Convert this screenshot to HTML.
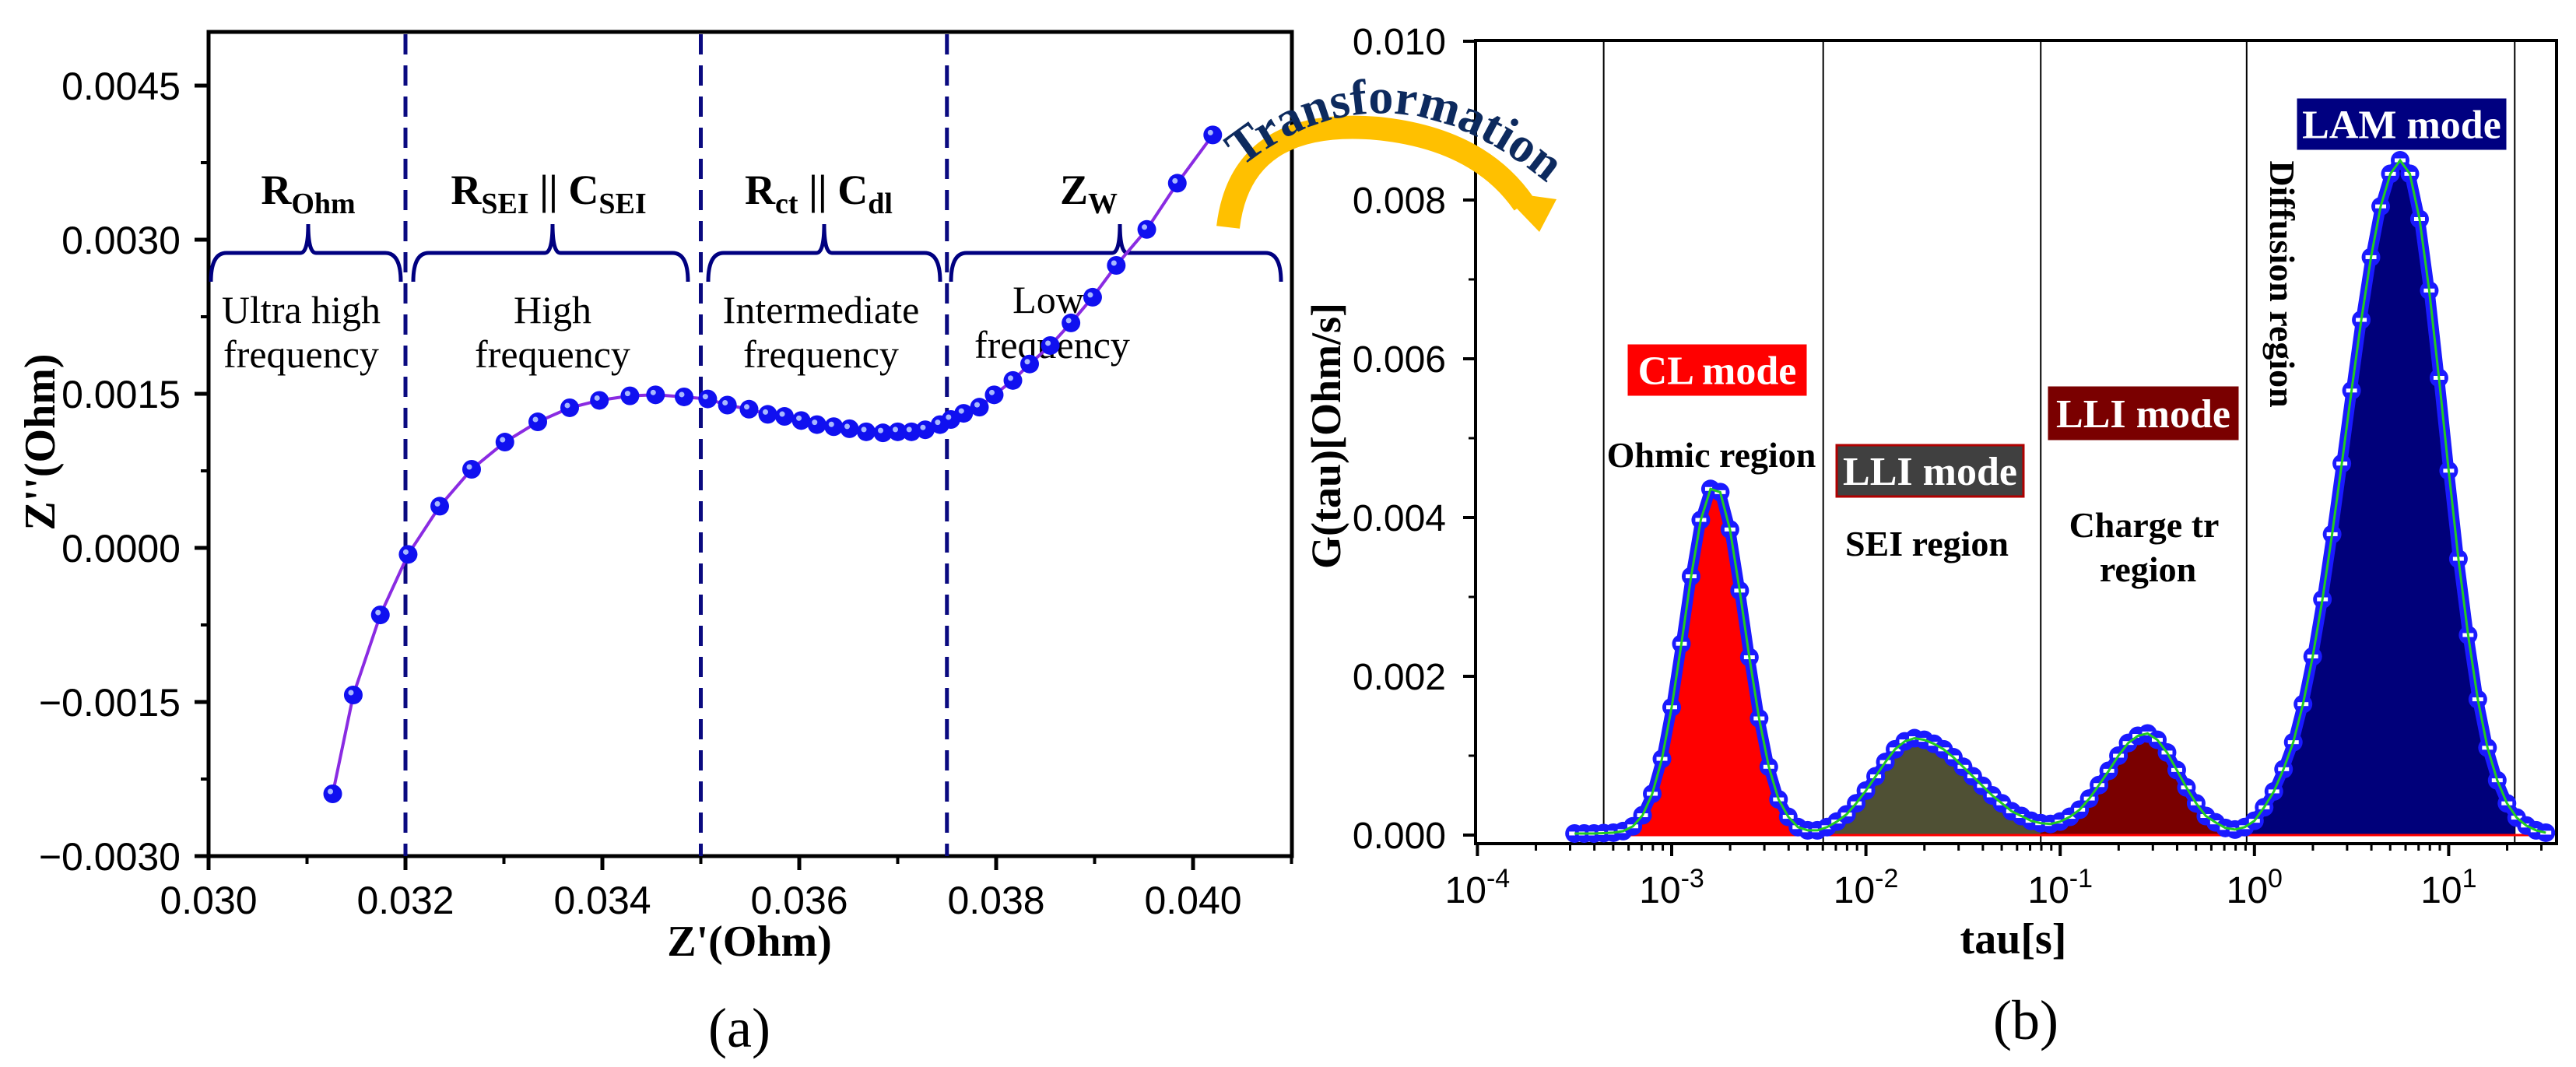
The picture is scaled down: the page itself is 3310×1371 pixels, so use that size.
<!DOCTYPE html>
<html><head><meta charset="utf-8"><style>
html,body{margin:0;padding:0;background:#fff;}
svg{display:block;}
text{font-family:"Liberation Sans",sans-serif;}
.serif{font-family:"Liberation Serif",serif;}
</style></head><body>
<svg id="fig" width="3310" height="1371" viewBox="0 0 3310 1371" xmlns="http://www.w3.org/2000/svg">
<defs>
<path id="arcPath" d="M1595,215 Q1790,60 2005,250"/>
</defs>
<g id="panelA"></g>
<g id="panelB"></g>
<g id="transform">
<path d="M1578,292 Q1595,150 1770,165 Q1900,178 1958,262" fill="none" stroke="#FFC000" stroke-width="30"/>
<polygon points="1928,246 2000,256 1978,298" fill="#FFC000"/>
<text class="serif" font-size="64" font-weight="bold" fill="#0d2a5e"><textPath href="#arcPath">Transformation</textPath></text>
</g>
</svg>
<script>
// ---------- Panel (a) data ----------
const aZre = [0.031261,0.03147,0.031745,0.032027,0.032348,0.032672,0.03301,0.033344,0.033668,0.03397,0.03428,0.03454,0.03483,0.03507,0.03527,0.03549,0.03568,0.03585,0.03602,0.03618,0.03635,0.03651,0.03668,0.03685,0.037,0.03714,0.03728,0.03743,0.03754,0.03767,0.03783,0.03798,0.03817,0.03834,0.03855,0.03876,0.03898,0.03922,0.03953,0.03984,0.0402];
const aZim = [-0.002394,-0.001432,-0.000652,-0.000063,0.000406,0.000765,0.00103,0.001227,0.001364,0.001436,0.00148,0.00149,0.00147,0.00145,0.00139,0.00135,0.0013,0.00128,0.00124,0.0012,0.00118,0.00116,0.00113,0.00112,0.00113,0.00113,0.00115,0.0012,0.00125,0.00131,0.00137,0.00149,0.00163,0.00179,0.00197,0.00219,0.00244,0.00275,0.0031,0.00355,0.00402];
const aXTicks = [0.030,0.032,0.034,0.036,0.038,0.040];
const aXTickLabels = ["0.030","0.032","0.034","0.036","0.038","0.040"];
const aYTicks = [-0.0030,-0.0015,0.0000,0.0015,0.0030,0.0045];
const aYTickLabels = ["\u22120.0030","\u22120.0015","0.0000","0.0015","0.0030","0.0045"];
const aDividers = [0.032,0.035,0.0375];
// ---------- Panel (b) data ----------
const bLogTau = [-3.5,-3.45,-3.4,-3.35,-3.3,-3.25,-3.2,-3.15,-3.1,-3.05,-3.0,-2.95,-2.9,-2.85,-2.8,-2.75,-2.7,-2.65,-2.6,-2.55,-2.5,-2.45,-2.4,-2.35,-2.3,-2.25,-2.2,-2.15,-2.1,-2.05,-2.0,-1.95,-1.9,-1.85,-1.8,-1.75,-1.7,-1.65,-1.6,-1.55,-1.5,-1.45,-1.4,-1.35,-1.3,-1.25,-1.2,-1.15,-1.1,-1.05,-1.0,-0.95,-0.9,-0.85,-0.8,-0.75,-0.7,-0.65,-0.6,-0.55,-0.5,-0.45,-0.4,-0.35,-0.3,-0.25,-0.2,-0.15,-0.1,-0.05,0,0.05,0.1,0.15,0.2,0.25,0.3,0.35,0.4,0.45,0.5,0.55,0.6,0.65,0.7,0.75,0.8,0.85,0.9,0.95,1.0,1.05,1.1,1.15,1.2,1.25,1.3,1.35,1.4,1.45,1.5];
const bG = [0.2,0.2,0.2,0.25,0.3,0.5,1.1,2.5,5.2,9.6,16.1,24.1,32.6,39.7,43.6,43.2,38.5,30.8,22.4,14.7,8.6,4.5,2.3,1.0,0.6,0.6,1.0,1.7,2.6,4.0,5.6,7.4,9.2,10.8,11.8,12.2,12.0,11.5,10.8,9.8,8.6,7.4,6.2,5.0,4.0,3.0,2.4,1.8,1.5,1.4,1.7,2.3,3.2,4.6,6.3,8.1,10.0,11.6,12.5,12.8,12.0,10.4,8.2,6.0,4.0,2.4,1.6,0.9,0.7,1.0,1.8,3.5,5.5,8.3,11.7,16.5,22.5,29.7,37.9,46.8,56,64.9,72.8,79.2,83.3,85,83.3,77.6,68.6,57.6,45.9,34.8,25.2,17.1,11,6.9,4.0,2.2,1.2,0.6,0.3]; // units of 1e-4 Ohm/s
const bYTicks = [0,0.002,0.004,0.006,0.008,0.010];
const bYTickLabels = ["0.000","0.002","0.004","0.006","0.008","0.010"];
const bXDecades = [-4,-3,-2,-1,0,1];
const bXTickExp = ["-4","-3","-2","-1","0","1"];
const bRegionBounds = [-3.35,-2.22,-1.1,-0.04,1.34];
const bRegionColors = ["#ff0000","#4f5034","#7a0000","#00007a"];

const NS = "http://www.w3.org/2000/svg";
function mk(parent, tag, attrs, txt){
  const e = document.createElementNS(NS, tag);
  for (const k in attrs) e.setAttribute(k, attrs[k]);
  if (txt !== undefined) e.textContent = txt;
  parent.appendChild(e);
  return e;
}

// ===== Panel A =====
const A = document.getElementById('panelA');
const aL=268, aR=1660, aT=41, aB=1100;
const xa = v => aL + (v-0.030)*126500;
const ya = v => 704 - v*132000;
let e;
e = mk(A,'rect',{x:aL,y:aT,width:aR-aL,height:aB-aT,fill:'none',stroke:'#000','stroke-width':5});


aXTicks.forEach((v,i)=>{
  e = mk(A,'line',{x1:xa(v),x2:xa(v),y1:aB,y2:aB+18,stroke:'#000','stroke-width':5});
  
  
  e = mk(A,'line',{x1:xa(v+0.001),x2:xa(v+0.001),y1:aB,y2:aB+10,stroke:'#000','stroke-width':4});
  
  
  e = mk(A,'text',{x:xa(v),y:1174,'font-size':50,'text-anchor':'middle'},aXTickLabels[i]);
  
  
});
aYTicks.forEach((v,i)=>{
  e = mk(A,'line',{x1:aL-18,x2:aL,y1:ya(v),y2:ya(v),stroke:'#000','stroke-width':5});
  
  
  if (i<aYTicks.length-1){
    e = mk(A,'line',{x1:aL-10,x2:aL,y1:ya(v+0.00075),y2:ya(v+0.00075),stroke:'#000','stroke-width':4});
    
    
  }
  e = mk(A,'text',{x:232,y:ya(v)+18,'font-size':50,'text-anchor':'end'},aYTickLabels[i]);
  
  
});
aDividers.forEach(v=>{
  e = mk(A,'line',{x1:xa(v),x2:xa(v),y1:aT+3,y2:aB,stroke:'#0a0a80','stroke-width':5,'stroke-dasharray':'26,14'});
  
  
});
const braces=[[271,515,396],[531,884,710],[910,1208,1059],[1222,1646,1439]];
braces.forEach(b=>{
  const [x0,x1,xm]=b, y=325;
  const d=`M${x0},362 Q${x0},${y} ${x0+20},${y} L${xm-10},${y} Q${xm},${y} ${xm},288 Q${xm},${y} ${xm+10},${y} L${x1-20},${y} Q${x1},${y} ${x1},362`;
  e = mk(A,'path',{d:d,fill:'none',stroke:'#000080','stroke-width':5});
  
  
});
function subLabel(x,y,parts,name){
  const t = mk(A,'text',{x:x,y:y,'font-size':54,'font-weight':'bold','text-anchor':'middle',class:'serif'});
  
  
  parts.forEach(p=>{
    mk(t,'tspan',p[1]?{'font-size':38,dy:12}:{'font-size':54,dy:p[2]||0},p[0]);
  });
}
subLabel(396,262,[["R"],["Ohm",1]],'r-ohm-label');
subLabel(705,262,[["R"],["SEI",1],[" || C",0,-12],["SEI",1]],'r-sei-c-sei-label');
subLabel(1052,262,[["R"],["ct",1],[" || C",0,-12],["dl",1]],'r-ct-c-dl-label');
subLabel(1399,262,[["Z"],["W",1]],'z-w-label');
const regTxt=[[387,415,"Ultra high"],[387,472,"frequency"],[710,415,"High"],[710,472,"frequency"],[1055,415,"Intermediate"],[1055,472,"frequency"],[1347,402,"Low"],[1352,460,"frequency"]];
regTxt.forEach(r=>{
  e = mk(A,'text',{x:r[0],y:r[1],'font-size':50,'text-anchor':'middle',class:'serif'},r[2]);
  
  
});
let dA = aZre.map((v,i)=>(i?'L':'M')+xa(v).toFixed(1)+','+ya(aZim[i]).toFixed(1)).join(' ');
e = mk(A,'path',{d:dA,fill:'none',stroke:'#8a2be2','stroke-width':4});


aZre.forEach((v,i)=>{
  e = mk(A,'circle',{cx:xa(v),cy:ya(aZim[i]),r:12,fill:'#1010f0'});
  
  
  mk(A,'circle',{cx:xa(v)-3,cy:ya(aZim[i])-3,r:3.5,fill:'#a8b8ff'});
});
e = mk(A,'text',{x:963,y:1228,'font-size':56,'font-weight':'bold','text-anchor':'middle',class:'serif'},"Z'(Ohm)");


e = mk(A,'text',{x:0,y:0,'font-size':56,'font-weight':'bold','text-anchor':'middle',class:'serif',transform:'translate(70,568) rotate(-90)'},"Z''(Ohm)");


e = mk(A,'text',{x:950,y:1345,'font-size':72,'text-anchor':'middle',class:'serif'},"(a)");



// ===== Panel B =====
const B = document.getElementById('panelB');
const bL=1896, bR=3285, bT=52, bB=1084;
const xb = l => 2148 + (l+3)*249.6;
const yb = g => 1073 - g*10.2;
const ybv = v => 1073 - v*102000;
e = mk(B,'rect',{x:bL,y:bT,width:bR-bL,height:bB-bT,fill:'none',stroke:'#000','stroke-width':4});


bRegionBounds.forEach(l=>{
  e = mk(B,'line',{x1:xb(l),x2:xb(l),y1:bT,y2:bB,stroke:'#000','stroke-width':2});
  
  
});
const areaD = 'M'+xb(bLogTau[0])+','+yb(0)+' '+bLogTau.map((l,i)=>'L'+xb(l).toFixed(1)+','+yb(bG[i]).toFixed(1)).join(' ')+' L'+xb(bLogTau[bLogTau.length-1])+','+yb(0)+' Z';
const defs = document.querySelector('defs');
bRegionColors.forEach((c,i)=>{
  const cp = mk(defs,'clipPath',{id:'clip'+i});
  mk(cp,'rect',{x:xb(bRegionBounds[i]),y:bT,width:xb(bRegionBounds[i+1])-xb(bRegionBounds[i]),height:bB-bT});
  e = mk(B,'path',{d:areaD,fill:c,'clip-path':'url(#clip'+i+')'});
  
  
});
e = mk(B,'line',{x1:xb(bLogTau[0]),x2:xb(bLogTau[bLogTau.length-1]),y1:yb(0),y2:yb(0),stroke:'#ff0000','stroke-width':3});


const dB = bLogTau.map((l,i)=>(i?'L':'M')+xb(l).toFixed(1)+','+yb(bG[i]).toFixed(1)).join(' ');
e = mk(B,'path',{d:dB,fill:'none',stroke:'#1a1aff','stroke-width':14,'stroke-linejoin':'round'});


bLogTau.forEach((l,i)=>{
  e = mk(B,'circle',{cx:xb(l),cy:yb(bG[i]),r:12,fill:'#1a1aff'});
  
  
  mk(B,'rect',{x:xb(l)-7,y:yb(bG[i])-2.5,width:14,height:5,fill:'#fff'});
});
e = mk(B,'path',{d:dB,fill:'none',stroke:'#22cc22','stroke-width':3});


bYTicks.forEach((v,i)=>{
  e = mk(B,'line',{x1:bL-16,x2:bL,y1:ybv(v),y2:ybv(v),stroke:'#000','stroke-width':4});
  
  
  if(i<bYTicks.length-1){
    e = mk(B,'line',{x1:bL-9,x2:bL,y1:ybv(v+0.001),y2:ybv(v+0.001),stroke:'#000','stroke-width':3});
    
    
  }
  e = mk(B,'text',{x:1858,y:ybv(v)+17,'font-size':48,'text-anchor':'end'},bYTickLabels[i]);
  
  
});
bXDecades.forEach((d,i)=>{
  e = mk(B,'line',{x1:xb(d),x2:xb(d),y1:bB,y2:bB+16,stroke:'#000','stroke-width':4});
  
  
  for(let m=2;m<=9;m++){
    const xm = xb(d+Math.log10(m));
    if (xm>bR) break;
    e = mk(B,'line',{x1:xm,x2:xm,y1:bB,y2:bB+9,stroke:'#000','stroke-width':3});
    
    
  }
  const t = mk(B,'text',{x:xb(d),y:1160,'font-size':48,'text-anchor':'middle'});
  
  
  mk(t,'tspan',{},'10');
  mk(t,'tspan',{'font-size':34,dy:-20},bXTickExp[i]);
});
function box(x,y,w,h,fill,stroke,label,name){
  e = mk(B,'rect',{x:x,y:y,width:w,height:h,fill:fill,stroke:stroke,'stroke-width':3});
  
  
  e = mk(B,'text',{x:x+w/2,y:y+h/2+18,'font-size':52,'font-weight':'bold','text-anchor':'middle',fill:'#fff',class:'serif'},label);
  
  
}
box(2093,444,227,63,'#ff0000','#ff0000','CL mode','cl-mode');
box(2360,572,240,66,'#404040','#b00000','LLI mode','lli-mode-sei');
box(2633,498,242,66,'#7a0000','#7a0000','LLI mode','lli-mode-ct');
box(2953,128,266,63,'#000080','#000080','LAM mode','lam-mode');
const bTxt=[[2199,600,"Ohmic region"],[2476,714,"SEI region"],[2755,690,"Charge tr"],[2760,747,"region"]];
bTxt.forEach(r=>{
  e = mk(B,'text',{x:r[0],y:r[1],'font-size':46,'font-weight':'bold','text-anchor':'middle',class:'serif'},r[2]);
  
  
});
e = mk(B,'text',{x:0,y:0,'font-size':46,'font-weight':'bold','text-anchor':'middle',class:'serif',transform:'translate(2917,365) rotate(90)'},"Diffusion region");


e = mk(B,'text',{x:2587,y:1225,'font-size':56,'font-weight':'bold','text-anchor':'middle',class:'serif'},"tau[s]");


e = mk(B,'text',{x:0,y:0,'font-size':54,'font-weight':'bold','text-anchor':'middle',class:'serif',transform:'translate(1722,560) rotate(-90)'},"G(tau)[Ohm/s]");


e = mk(B,'text',{x:2603,y:1335,'font-size':72,'text-anchor':'middle',class:'serif'},"(b)");


</script>
</body></html>
